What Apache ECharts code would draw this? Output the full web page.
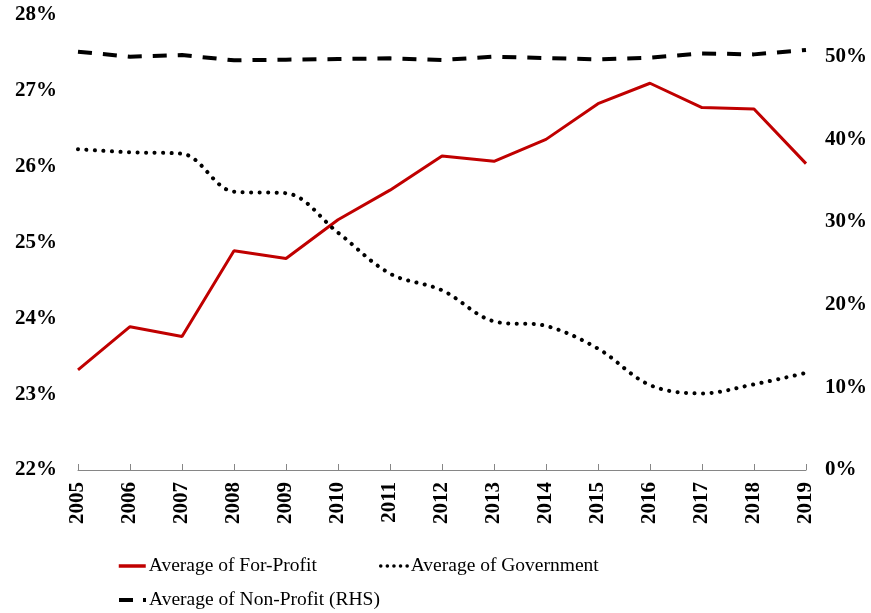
<!DOCTYPE html>
<html>
<head>
<meta charset="utf-8">
<script src="https://cdn.jsdelivr.net/npm/echarts@6/dist/echarts.min.js"></script>
<style>html,body{margin:0;padding:0;background:#fff}#c{width:871px;height:613px}</style>
</head>
<body>
<div id="c"></div>
<script>
const years = ['2005','2006','2007','2008','2009','2010','2011','2012','2013','2014','2015','2016','2017','2018','2019'];
const forProfit = [23.32,23.89,23.76,24.89,24.79,25.30,25.69,26.14,26.07,26.36,26.83,27.10,26.78,26.76,26.04];
const government = [26.23,26.19,26.17,25.67,25.65,25.13,24.59,24.37,23.96,23.90,23.60,23.12,23.01,23.13,23.28];
const nonProfit = [50.56,49.96,50.16,49.52,49.60,49.68,49.76,49.56,49.96,49.80,49.64,49.84,50.36,50.24,50.77];
const seriesNames = ['Average of For-Profit','Average of Government','Average of Non-Profit (RHS)'];

const font = '"Liberation Serif","Times New Roman",serif';
const legendText = {fontFamily:font,fontSize:19.5,color:'#000',padding:[0,0,0,-2]};
const noSym = {color:'transparent',borderWidth:0,opacity:0};
const chart = echarts.init(document.getElementById('c'), null, {renderer:'canvas'});
chart.setOption({
  animation:false,
  backgroundColor:'#fff',
  grid:{left:78,right:65,top:15,bottom:143,containLabel:false},
  legend:[
    {data:[
       {name:seriesNames[0],lineStyle:{color:'#C00000',width:3.5}},
       {name:seriesNames[1],lineStyle:{color:'#000',width:3.5,type:[0.1,6.5],cap:'round'}}
     ],left:117,top:556,padding:0,itemWidth:27,itemHeight:10,itemGap:62,
     itemStyle:noSym,textStyle:legendText},
    {data:[{name:seriesNames[2],lineStyle:{color:'#000',width:4,type:[14,10]}}],
     left:117,top:590,padding:0,itemWidth:27,itemHeight:10,
     itemStyle:noSym,textStyle:legendText}
  ],
  xAxis:{type:'category',data:years,boundaryGap:false,
    axisLine:{lineStyle:{color:'#868686',width:1}},
    axisTick:{inside:true,length:6,alignWithLabel:true,lineStyle:{color:'#868686'}},
    axisLabel:{rotate:90,margin:12,fontFamily:font,fontSize:21,fontWeight:'bold',color:'#000',interval:0}},
  yAxis:[
    {type:'value',min:22,max:28,interval:1,splitLine:{show:false},axisLine:{show:false},axisTick:{show:false},
     axisLabel:{margin:21,fontFamily:font,fontSize:21,fontWeight:'bold',color:'#000',formatter:v=>v+'%'}},
    {type:'value',min:0,max:55,interval:10,splitLine:{show:false},axisLine:{show:false},axisTick:{show:false},
     axisLabel:{margin:19,fontFamily:font,fontSize:21,fontWeight:'bold',color:'#000',showMaxLabel:false,
       formatter:v=>(v%10===0?v+'%':'')}}
  ],
  series:[
    {name:seriesNames[0],type:'line',data:forProfit,yAxisIndex:0,symbol:'none',
     lineStyle:{color:'#C00000',width:3},itemStyle:{color:'#C00000'}},
    {name:seriesNames[1],type:'line',data:government,yAxisIndex:0,symbol:'none',smooth:0.35,
     lineStyle:{color:'#000',width:4,type:[0.1,8.4],cap:'round'},itemStyle:{color:'#000'}},
    {name:seriesNames[2],type:'line',data:nonProfit,yAxisIndex:1,symbol:'none',
     lineStyle:{color:'#000',width:4,type:[14,11]},itemStyle:{color:'#000'}}
  ]
});
</script>
</body>
</html>
